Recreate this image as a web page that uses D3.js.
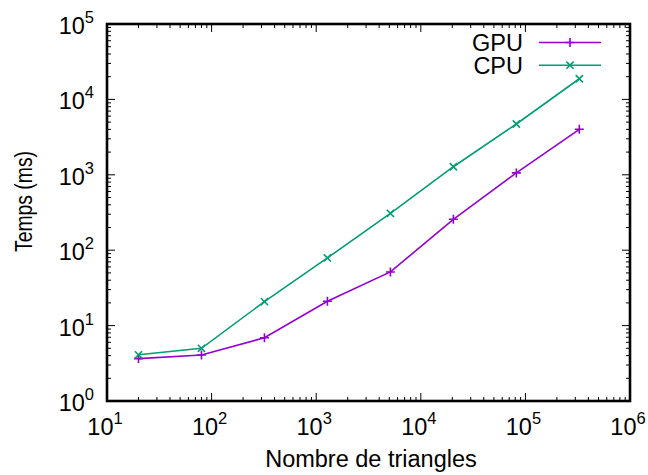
<!DOCTYPE html>
<html><head><meta charset="utf-8">
<script src="https://cdn.jsdelivr.net/npm/d3@7"></script>
<style>body{margin:0;background:#fff}svg{display:block}text{font-family:"Liberation Sans",Arial,sans-serif;fill:#000}</style>
</head><body><svg id="c" width="648" height="475"></svg>
<script>
const triangles = [20, 80, 320, 1280, 5120, 20480, 81920, 327680];
const gpuTimes = [3.65, 4.07, 6.9, 21, 51.5, 257, 1060, 4010];
const cpuTimes = [4.1, 5.0, 20.8, 79, 308, 1280, 4720, 18800];
const seriesNames = ["GPU", "CPU"];
const seriesColors = ["#9400d3", "#009e73"];
const xTickExps = [1, 2, 3, 4, 5, 6];
const yTickExps = [0, 1, 2, 3, 4, 5];
const xLabel = "Nombre de triangles";
const yLabel = "Temps (ms)";

const svg = d3.select("#c");
const L = 107, R = 630, T = 24, B = 401;
const x = d3.scaleLog().domain([10, 1e6]).range([L, R]);
const y = d3.scaleLog().domain([1, 1e5]).range([B, T]);
const FS = "23.5px", SS = "16.5px";

const g = svg.append("g");
function ticksFor(exps) {
  const maj = [], min = [];
  exps.forEach((e, i) => {
    maj.push(Math.pow(10, e));
    if (i < exps.length - 1) for (let k = 2; k <= 9; k++) min.push(k * Math.pow(10, e));
  });
  return {maj, min};
}
const xt = ticksFor(xTickExps), yt = ticksFor(yTickExps);
const tk = (x1, y1, x2, y2) => g.append("line").attr("x1", x1).attr("y1", y1).attr("x2", x2).attr("y2", y2).attr("stroke", "#000").attr("stroke-width", 1);
xt.maj.forEach(v => { tk(x(v), B, x(v), B - 8); tk(x(v), T, x(v), T + 8); });
xt.min.forEach(v => { tk(x(v), B, x(v), B - 4); tk(x(v), T, x(v), T + 4); });
yt.maj.forEach(v => { tk(L, y(v), L + 8, y(v)); tk(R, y(v), R - 8, y(v)); });
yt.min.forEach(v => { tk(L, y(v), L + 4, y(v)); tk(R, y(v), R - 4, y(v)); });

xTickExps.forEach(e => {
  const t = svg.append("text").attr("x", x(Math.pow(10, e)) - 2).attr("y", 435).attr("text-anchor", "middle").style("font-size", FS);
  t.append("tspan").text("10");
  t.append("tspan").attr("dy", -11).style("font-size", SS).text(e);
});
yTickExps.forEach(e => {
  const t = svg.append("text").attr("x", 94).attr("y", y(Math.pow(10, e)) + 10).attr("text-anchor", "end").style("font-size", FS);
  t.append("tspan").text("10");
  t.append("tspan").attr("dy", -11).style("font-size", SS).text(e);
});

svg.append("rect").attr("x", L).attr("y", T).attr("width", R - L).attr("height", B - T).attr("fill", "none").attr("stroke", "#000").attr("stroke-width", 2.6);

svg.append("text").attr("x", 371).attr("y", 467).attr("text-anchor", "middle").style("font-size", FS).text(xLabel);
svg.append("text").attr("transform", "translate(32,201.5) rotate(-90)").attr("text-anchor", "middle")
  .attr("textLength", 101).attr("lengthAdjust", "spacingAndGlyphs").style("font-size", FS).text(yLabel);

const series = [gpuTimes, cpuTimes];
const line = d3.line().x(d => x(d[0])).y(d => y(d[1]));
function marker(sel, cx, cy, i, color) {
  const s = 4.5;
  if (i === 0) {
    sel.append("path").attr("d", `M${cx - s},${cy}H${cx + s}M${cx},${cy - s}V${cy + s}`).attr("stroke", color).attr("stroke-width", 1.6).attr("fill", "none");
  } else {
    const d = 3.6;
    sel.append("path").attr("d", `M${cx - d},${cy - d}L${cx + d},${cy + d}M${cx - d},${cy + d}L${cx + d},${cy - d}`).attr("stroke", color).attr("stroke-width", 1.6).attr("fill", "none");
  }
}
series.forEach((vals, i) => {
  const pts = triangles.map((t, j) => [t, vals[j]]);
  const sg = svg.append("g");
  sg.append("path").attr("d", line(pts)).attr("fill", "none").attr("stroke", seriesColors[i]).attr("stroke-width", 1.6);
  pts.forEach(p => marker(sg, x(p[0]), y(p[1]), i, seriesColors[i]));
  const ly = 42.5 + i * 22.7;
  svg.append("text").attr("x", 523).attr("y", ly + 8.5).attr("text-anchor", "end").style("font-size", FS).text(seriesNames[i]);
  svg.append("line").attr("x1", 539).attr("x2", 601).attr("y1", ly).attr("y2", ly).attr("stroke", seriesColors[i]).attr("stroke-width", 1.6);
  marker(svg, 570, ly, i, seriesColors[i]);
});
</script></body></html>
